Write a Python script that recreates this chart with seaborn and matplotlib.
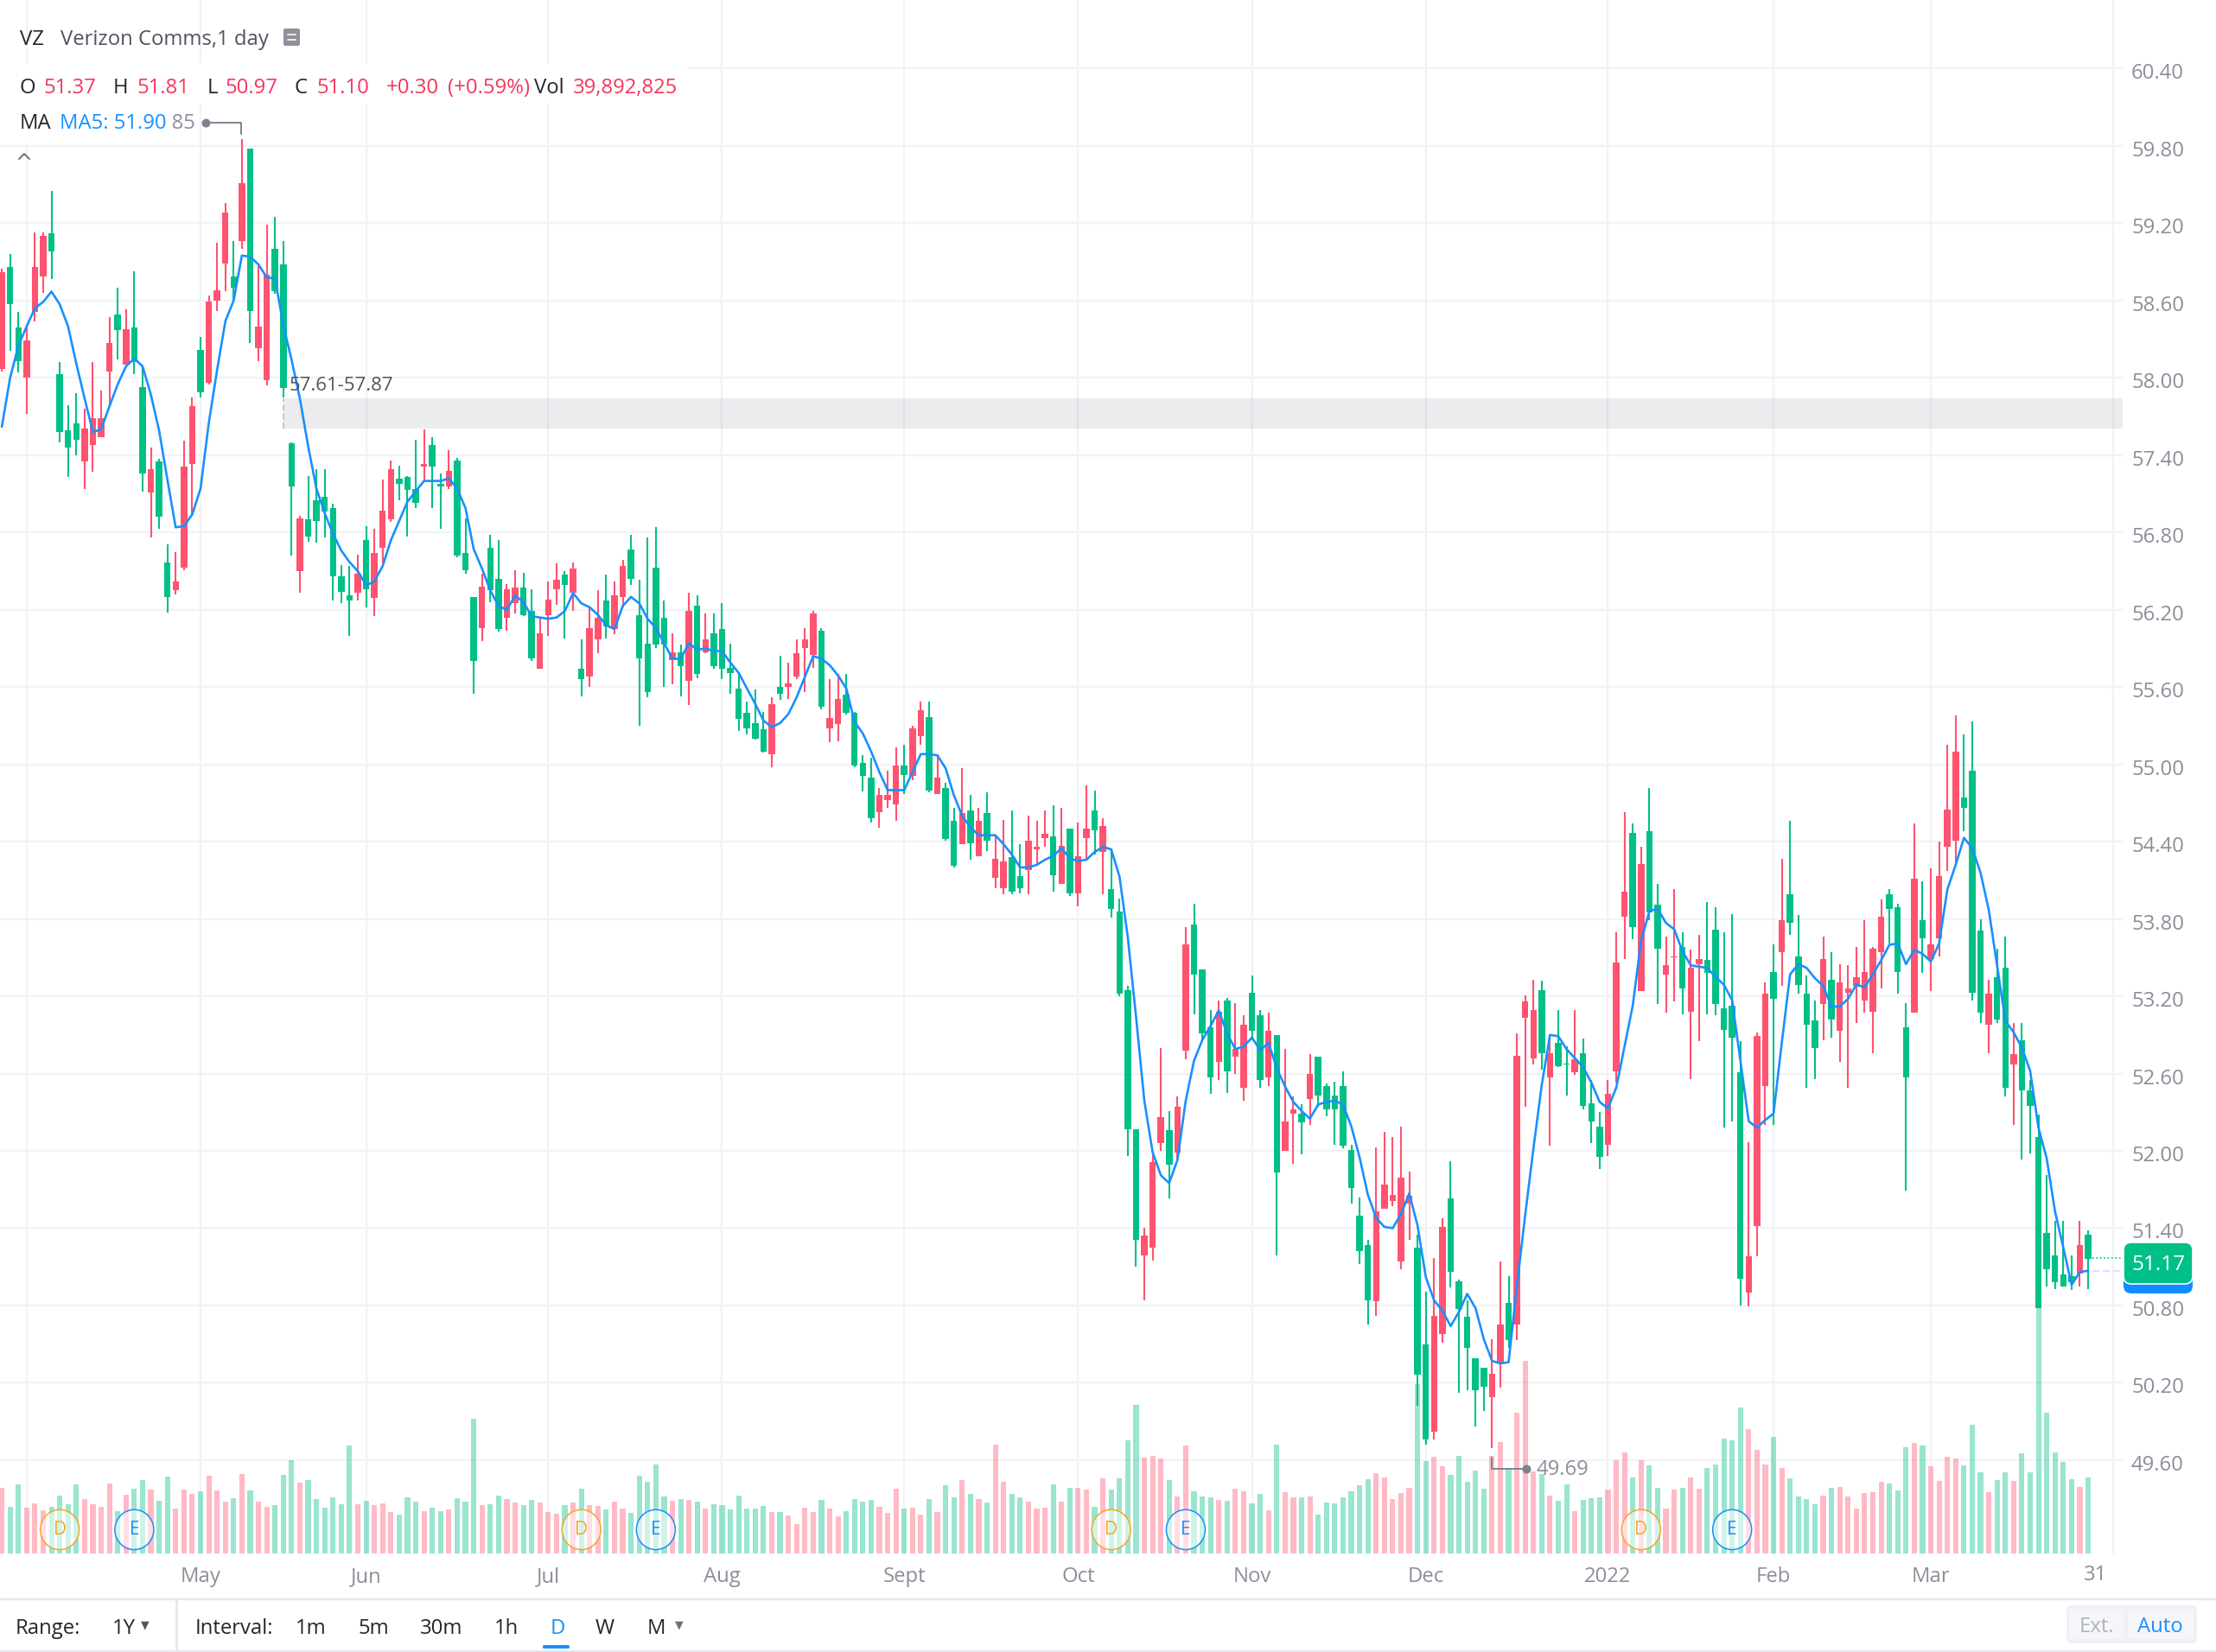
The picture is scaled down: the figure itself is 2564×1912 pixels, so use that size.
import matplotlib
matplotlib.use('Agg')
import matplotlib.pyplot as plt
import seaborn as sns
import pandas as pd
from matplotlib.lines import Line2D
from matplotlib.patches import Ellipse, FancyBboxPatch, Rectangle
from matplotlib.transforms import IdentityTransform, ScaledTranslation

open_px = [58.82,58.57,58.13,58.29,58.86,59.10,58.98,57.58,57.46,57.52,
57.61,57.69,57.69,58.27,58.37,58.38,58.12,57.26,57.29,56.92,
56.30,56.42,57.31,57.78,57.89,58.59,58.68,59.28,58.70,59.51,
58.52,58.40,58.80,58.67,57.92,57.16,56.91,56.77,56.89,56.96,
56.46,56.34,56.27,56.48,56.36,56.64,56.97,57.29,57.18,57.13,
57.03,57.33,57.31,57.16,57.28,56.62,56.51,55.80,56.38,56.35,
56.05,56.36,56.37,56.16,55.82,56.02,56.28,56.43,56.39,56.52,
55.66,56.06,56.14,56.07,56.31,56.54,56.44,55.82,55.56,55.93,
55.93,55.87,55.76,56.19,55.70,55.97,55.76,55.74,55.71,55.35,
55.28,55.20,55.10,55.47,55.55,55.63,55.86,55.97,56.17,55.45,
55.36,55.51,55.40,54.99,54.91,54.58,54.76,54.76,54.99,54.92,
55.28,55.42,54.80,54.90,54.42,54.21,54.62,54.39,54.56,54.41,
54.27,54.25,54.01,54.04,54.41,54.36,54.46,54.14,54.37,54.00,
54.29,54.50,54.49,54.52,53.88,53.22,52.17,51.31,51.34,51.91,
52.26,51.89,52.34,53.60,53.37,52.91,52.57,53.08,52.62,52.79,
52.98,52.93,52.55,52.93,51.83,52.23,52.32,52.22,52.60,52.43,
52.32,52.32,52.04,51.71,51.22,50.84,51.53,51.74,51.66,51.79,
51.65,50.26,49.76,50.72,51.41,51.06,50.77,50.47,50.14,50.17,
50.27,50.65,50.53,52.74,53.16,53.09,52.76,52.76,52.66,52.67,
52.71,52.35,52.23,51.95,52.44,53.46,54.01,53.74,54.23,53.85,
53.57,53.44,53.51,53.26,53.42,53.49,53.38,53.14,52.94,52.88,
51.01,51.18,52.89,53.22,53.18,53.79,53.77,53.29,52.98,52.80,
53.49,53.02,53.31,53.26,53.35,53.39,53.57,53.82,53.88,53.39,
52.57,54.11,53.65,53.60,54.13,54.65,55.10,54.66,53.23,53.07,
53.22,53.02,52.49,52.75,52.47,52.35,50.78,51.08,50.98,50.95,
50.98,51.27,51.16]

high_px = [58.85,58.96,58.51,58.40,59.13,59.13,59.45,58.12,57.79,57.88,
57.76,58.12,57.90,58.47,58.70,58.53,58.83,58.09,57.46,57.37,
56.71,56.65,57.51,57.85,58.32,58.64,59.05,59.36,59.06,59.85,
59.78,58.87,59.19,59.25,59.06,57.50,56.93,57.24,57.29,57.29,
57.02,56.55,56.54,56.63,56.85,56.83,57.21,57.36,57.32,57.24,
57.52,57.60,57.54,57.26,57.44,57.38,56.91,56.30,56.48,56.78,
56.74,56.40,56.51,56.49,56.36,56.13,56.42,56.56,56.50,56.57,
55.97,56.22,56.35,56.47,56.42,56.59,56.78,56.43,56.76,56.84,
56.27,56.02,55.93,56.33,56.31,56.17,56.17,56.25,55.94,55.70,
55.49,55.58,55.41,55.52,55.84,55.79,55.97,56.06,56.19,56.06,
55.66,55.70,55.70,55.41,55.07,55.05,54.82,54.95,55.13,55.15,
55.30,55.49,55.49,55.08,54.86,54.66,54.97,54.76,54.66,54.78,
54.45,54.57,54.64,54.38,54.60,54.56,54.64,54.68,54.66,54.50,
54.55,54.84,54.80,54.58,54.34,53.96,53.28,52.17,51.40,51.99,
52.80,52.31,52.42,53.74,53.92,53.41,53.09,53.17,53.19,53.15,
53.05,53.36,53.09,53.07,52.90,52.79,52.42,52.36,52.75,52.73,
52.52,52.54,52.62,52.05,51.64,51.31,52.03,52.15,52.11,52.19,
51.84,51.35,50.91,51.17,51.48,51.92,51.00,50.84,50.39,50.32,
50.54,51.14,51.03,52.91,53.21,53.33,53.32,52.90,53.09,52.81,
53.09,52.87,52.55,52.30,52.55,53.70,54.63,54.54,54.36,54.82,
54.07,53.66,54.03,53.70,53.56,53.68,53.93,53.89,53.70,53.84,
52.85,52.07,52.92,53.31,53.60,54.27,54.56,53.83,53.36,53.17,
53.66,53.54,53.45,53.44,53.58,53.79,53.58,53.95,54.03,53.92,
53.15,54.54,54.09,54.19,54.40,55.15,55.38,55.23,55.33,53.80,
53.33,53.57,53.66,52.99,52.99,52.55,52.28,51.81,51.46,51.46,
51.19,51.46,51.38]

low_px = [58.05,58.21,58.04,57.72,58.44,58.66,58.77,57.50,57.23,57.40,
57.14,57.27,57.54,57.79,58.14,58.10,58.03,57.12,56.76,56.83,
56.18,56.32,56.51,56.94,57.85,57.95,58.52,58.67,58.59,59.00,
58.27,58.13,57.94,58.65,57.85,56.62,56.33,56.73,56.72,56.76,
56.27,56.25,56.00,56.27,56.22,56.15,56.56,56.88,57.05,56.77,
56.99,57.20,56.99,56.83,57.14,56.61,56.48,55.55,55.96,56.26,
56.03,56.04,56.17,56.15,55.80,55.74,56.00,56.24,55.98,56.19,
55.53,55.60,55.86,55.98,56.01,56.22,56.39,55.30,55.52,55.90,
55.60,55.62,55.53,55.46,55.67,55.86,55.74,55.66,55.55,55.26,
55.23,55.19,55.09,54.98,55.50,55.51,55.66,55.56,55.75,55.43,
55.17,55.18,55.39,54.98,54.79,54.55,54.51,54.66,54.56,54.77,
54.88,55.15,54.78,54.77,54.41,54.20,54.38,54.26,54.29,54.33,
54.04,53.99,53.99,54.00,53.99,54.23,54.36,54.01,54.07,53.98,
53.90,54.26,54.30,53.99,53.81,53.20,51.96,51.10,50.84,51.15,
52.00,51.63,51.94,52.71,53.06,52.86,52.44,52.55,52.45,52.60,
52.39,52.86,52.49,52.50,51.19,52.00,51.90,51.97,52.20,52.34,
52.27,52.05,52.02,51.59,51.12,50.65,50.72,51.55,51.57,51.08,
51.31,50.02,49.72,49.76,50.51,50.94,50.12,50.14,49.86,49.98,
49.69,50.16,50.47,50.53,52.34,52.67,52.63,52.04,52.65,52.43,
52.59,52.32,52.06,51.86,51.96,52.53,53.49,53.64,53.24,53.79,
53.14,53.07,53.16,53.06,52.56,52.85,53.06,53.05,52.18,52.23,
50.80,50.79,51.18,52.20,52.20,53.28,53.68,53.22,52.49,52.56,
52.86,52.88,52.69,52.49,52.99,53.07,52.76,53.26,53.61,53.22,
51.69,53.07,53.38,53.24,53.51,54.17,54.24,54.48,53.17,52.99,
52.76,52.99,52.42,52.20,51.93,51.98,50.78,50.95,50.93,50.95,
50.92,50.95,50.93]

close_px = [58.07,58.86,58.39,58.00,58.51,58.79,59.12,58.03,57.59,57.65,
57.35,57.48,57.54,58.05,58.49,58.10,58.39,57.93,57.11,57.35,
56.57,56.35,56.53,57.33,58.22,57.96,58.60,58.89,58.79,59.06,
59.78,58.23,57.98,59.00,58.88,57.49,56.50,56.90,57.05,57.08,
56.99,56.46,56.31,56.33,56.74,56.29,56.68,56.90,57.22,57.23,
57.14,57.31,57.48,57.18,57.16,57.36,56.64,56.30,56.06,56.68,
56.44,56.14,56.25,56.37,56.19,55.74,56.16,56.36,56.47,56.33,
55.74,55.68,55.97,56.27,56.05,56.30,56.67,56.16,55.94,56.53,
56.14,55.81,55.87,55.65,56.23,55.87,56.02,56.05,55.75,55.59,
55.40,55.32,55.27,55.08,55.60,55.60,55.68,55.90,55.85,56.04,
55.28,55.31,55.54,55.40,55.01,54.90,54.63,54.72,54.69,54.99,
54.91,55.22,55.37,54.77,54.82,54.56,54.38,54.64,54.29,54.62,
54.12,54.04,54.28,54.13,54.18,54.34,54.43,54.44,54.07,54.50,
54.00,54.43,54.64,54.32,54.03,53.86,53.25,52.17,51.19,51.25,
52.06,52.16,51.99,52.78,53.76,53.41,52.96,52.69,53.17,52.73,
52.49,53.23,53.05,52.57,52.90,52.00,52.29,52.29,52.40,52.73,
52.50,52.43,52.50,52.01,51.50,51.27,50.83,51.55,51.61,51.14,
51.59,51.25,50.50,49.82,50.58,51.63,50.99,50.71,50.39,50.32,
50.09,50.35,50.82,50.65,53.03,52.72,53.25,52.57,52.84,52.68,
52.61,52.76,52.37,52.19,52.05,52.62,53.82,54.47,53.24,54.48,
53.91,53.37,53.50,53.58,53.08,53.45,53.48,53.72,53.11,53.13,
52.61,50.90,51.42,52.50,53.39,53.54,53.99,53.51,53.22,53.01,
53.14,53.33,52.93,53.23,53.28,53.17,53.08,53.54,53.99,53.89,
52.96,53.07,53.79,53.49,53.65,54.36,54.41,54.74,54.95,53.71,
52.98,53.35,53.42,52.67,52.86,52.47,52.11,51.36,51.19,51.04,
51.03,51.05,51.35]

volume_m = [34.3,24.3,36.1,23.9,26.1,22.5,24.3,30.2,25.7,36.1,
28.4,25.7,24.3,36.5,22.0,30.7,33.8,38.4,33.4,27.5,
40.2,23.4,33.4,31.1,32.5,40.6,32.9,27.0,28.8,41.5,
32.9,27.0,24.3,25.2,41.1,48.8,37.0,38.4,28.4,23.9,
29.3,25.7,56.5,25.7,27.5,25.2,26.1,21.6,20.2,29.3,
27.0,22.0,23.9,22.0,23.0,28.8,27.0,70.5,25.2,25.7,
30.2,28.4,26.6,25.2,27.9,26.6,21.6,20.7,25.2,26.6,
33.8,25.2,24.8,23.0,27.0,23.4,21.1,40.6,37.4,46.5,
29.7,27.5,28.4,27.9,27.0,23.4,25.7,25.2,23.0,30.2,
23.4,23.4,24.8,21.6,21.6,19.8,15.3,23.9,21.6,27.9,
23.4,19.3,22.0,28.4,27.0,27.9,24.3,21.1,33.8,23.4,
23.9,20.2,28.4,21.6,35.6,29.3,38.4,31.1,28.4,26.6,
56.9,37.4,31.1,29.3,27.0,23.4,23.9,36.1,27.0,34.3,
34.3,33.4,24.3,39.3,33.4,39.3,59.2,77.8,50.1,51.0,
49.7,38.4,29.7,56.5,32.5,29.7,29.3,27.9,27.5,33.8,
32.5,26.1,31.1,22.5,56.9,32.0,29.3,29.3,29.7,20.2,
26.6,26.1,29.3,32.5,35.6,38.8,42.0,39.7,28.4,31.6,
34.3,88.6,48.3,50.6,45.6,41.1,51.0,37.4,43.3,33.8,
51.0,58.3,44.2,73.7,100.9,42.9,41.5,30.2,27.5,36.1,
22.0,27.9,28.8,29.3,33.4,48.8,52.9,39.7,48.8,46.1,
34.3,23.4,33.4,34.3,39.7,33.8,44.7,46.5,60.1,59.2,
76.4,65.1,54.2,46.5,61.0,44.7,39.3,29.7,28.4,25.7,
30.2,34.3,34.7,29.7,23.4,31.6,32.0,37.4,36.5,32.9,
55.6,57.8,56.5,45.6,37.9,50.6,49.7,46.1,67.3,42.4,
32.0,38.4,42.4,37.9,52.4,42.4,130.3,73.7,52.9,47.9,
38.8,34.7,39.7]

ma5 = [57.62,58.00,58.25,58.40,58.54,58.59,58.67,58.57,58.40,58.11,
57.84,57.58,57.60,57.78,57.95,58.09,58.15,58.09,57.87,57.59,
57.21,56.84,56.85,56.94,57.14,57.65,58.06,58.44,58.60,58.95,
58.94,58.88,58.78,58.77,58.41,58.14,57.84,57.47,57.14,56.95,
56.79,56.66,56.57,56.50,56.39,56.42,56.54,56.74,56.89,57.04,
57.12,57.20,57.20,57.20,57.22,57.14,56.99,56.67,56.52,56.35,
56.23,56.20,56.31,56.26,56.15,56.14,56.13,56.14,56.19,56.33,
56.25,56.22,56.16,56.08,56.05,56.23,56.30,56.25,56.13,56.06,
55.94,55.82,55.82,55.94,55.89,55.90,55.88,55.88,55.79,55.71,
55.59,55.47,55.34,55.29,55.32,55.39,55.52,55.68,55.84,55.82,
55.77,55.69,55.59,55.33,55.24,55.10,54.94,54.80,54.80,54.80,
54.94,55.08,55.08,55.07,54.97,54.76,54.60,54.51,54.45,54.45,
54.45,54.38,54.30,54.20,54.20,54.22,54.26,54.29,54.35,54.27,
54.25,54.26,54.32,54.36,54.34,54.13,53.66,53.04,52.39,51.99,
51.81,51.75,51.93,52.39,52.70,52.86,52.97,53.09,52.91,52.79,
52.81,52.88,52.78,52.84,52.64,52.50,52.38,52.31,52.25,52.36,
52.38,52.39,52.36,52.19,51.95,51.66,51.48,51.41,51.40,51.51,
51.67,51.42,51.02,50.84,50.76,50.64,50.75,50.89,50.78,50.54,
50.37,50.35,50.36,50.95,51.50,52.02,52.51,52.90,52.89,52.79,
52.72,52.65,52.53,52.38,52.33,52.49,52.81,53.13,53.63,53.86,
53.88,53.77,53.72,53.55,53.44,53.43,53.42,53.35,53.29,53.17,
52.70,52.23,52.18,52.24,52.29,52.84,53.37,53.45,53.42,53.34,
53.28,53.12,53.12,53.18,53.29,53.27,53.37,53.48,53.60,53.61,
53.45,53.56,53.53,53.47,53.61,54.03,54.22,54.43,54.35,54.16,
53.87,53.44,53.01,52.92,52.80,52.62,52.18,51.94,51.53,51.25,
50.96,51.06,51.07]

price_ticks = [49.6,50.2,50.8,51.4,52.0,52.6,53.2,53.8,54.4,55.0,55.6,56.2,56.8,57.4,58.0,58.6,59.2,59.8,60.4]
month_bars = [3,24,44,66,87,109,130,151,172,194,214,233,255]
month_labels = ['','May','Jun','Jul','Aug','Sept','Oct','Nov','Dec','2022','Feb','Mar','']
dividend_bars = [7,70,134,198]
earnings_bars = [16,79,143,209]
gap_low, gap_high = 57.61, 57.84
last_price = 51.17

W, H = 2564, 1912
UP, DOWN, BLUE = '#00C087', '#FF5370', '#1890FF'
GRID, MUTED, DARK = '#F2F3F7', '#8C8E99', '#23252B'
RED_TXT = '#F5365C'

sns.set_theme(style='white')
plt.rcParams['font.family'] = ['Open Sans', 'DejaVu Sans']
plt.rcParams['font.size'] = 8.6

df = pd.DataFrame({'bar': range(len(close_px)), 'open': open_px, 'high': high_px,
                   'low': low_px, 'close': close_px, 'vol': volume_m, 'ma5': ma5})
df['dir'] = ['up' if c >= o else 'down' for o, c in zip(df.open, df.close)]
colors = [UP if d == 'up' else DOWN for d in df.dir]

fig = plt.figure(figsize=(W / 200, H / 200), dpi=200, facecolor='white')
rect = [0, 1 - 1798 / H, 2456 / W, 1798 / H]
xlim = (-0.22, 256.17)
ylim = (48.875, 60.933)

# grid and tick labels at the back, then volume, then candles
ax = fig.add_axes(rect)
ax.set_xlim(xlim)
ax.set_ylim(ylim)
ax.set_xticks(month_bars, month_labels)
ax.set_yticks(price_ticks, [f'{p:.2f}' for p in price_ticks])
ax.tick_params(axis='x', length=0, pad=5.5, labelsize=8.6, colors=MUTED)
ax.grid(True, color=GRID, linewidth=0.85)
ax.set_axisbelow(True)
sns.despine(ax=ax, left=True, right=True, top=True, bottom=True)
ax.fill_between([34, xlim[1]], gap_low, gap_high, color='#8A8F99', alpha=0.17, linewidth=0, zorder=2)
ax.vlines(34, gap_low, gap_high, colors='#C4C6CC', linestyles='--', linewidth=0.7, zorder=3)

ax_vol = ax.twinx()
sns.barplot(data=df, x='bar', y='vol', hue='dir', palette={'up': UP, 'down': DOWN}, native_scale=True,
            dodge=False, width=0.64, saturation=1, alpha=0.4, linewidth=0, errorbar=None, legend=False, ax=ax_vol)
ax_vol.set_xlim(xlim)
ax_vol.set_ylim(0, 814.5)
ax_vol.axis('off')

ax_p = ax.twinx()
ax_p.vlines(df.bar, df.low, df.high, colors=colors, linewidth=0.75)
ax_p.bar(df.bar, (df.close - df.open).abs(), bottom=df[['open', 'close']].min(axis=1),
         width=0.78, color=colors, linewidth=0)
sns.lineplot(data=df, x='bar', y='ma5', color=BLUE, linewidth=0.95, errorbar=None, ax=ax_p)
ax_p.hlines(last_price, 252.5, xlim[1] - 0.2, colors=UP, linestyles=':', linewidth=0.6)
ax_p.hlines(ma5[-1], 252.5, xlim[1], colors='#CFE6FF', linestyles='--', linewidth=0.8)
for bars, txt, col in [(dividend_bars, 'D', '#F5A623'), (earnings_bars, 'E', BLUE)]:
    for b in bars:
        ax_p.add_patch(Ellipse((b, 49.06), 4.7, 0.31, facecolor='white', alpha=0.55, linewidth=0))
        ax_p.add_patch(Ellipse((b, 49.06), 4.7, 0.31, facecolor='none', edgecolor=col, linewidth=0.55))
        ax_p.text(b, 49.06, txt, color=col, fontsize=7.5, ha='center', va='center')
ax_p.set_xlim(xlim)
ax_p.set_ylim(ylim)
ax_p.axis('off')

# twinx moves the base ticks to the left, so set the right side after it
ax.yaxis.tick_right()
ax.tick_params(axis='y', length=0, pad=3.6, labelsize=8.6, colors=MUTED)
nudge = ScaledTranslation(0, -3 / 200, fig.dpi_scale_trans)
for t in ax.get_yticklabels():
    t.set_transform(t.get_transform() + nudge)

pix = IdentityTransform()


def label(x, y, s, color=DARK, size=8.6, ha='left', z=8):
    fig.text(x, H - y, s, transform=pix, color=color, fontsize=size, ha=ha, va='center', zorder=z)


def box(x0, y0, x1, y1, color, rad=0.0, z=5, edge='none', lw=0):
    if rad:
        fig.add_artist(FancyBboxPatch((x0 + rad, H - y1 + rad), x1 - x0 - 2 * rad, y1 - y0 - 2 * rad,
                                      boxstyle=f'round,pad={rad}', transform=pix, facecolor=color,
                                      edgecolor=edge, linewidth=lw, zorder=z))
    else:
        fig.add_artist(Rectangle((x0, H - y1), x1 - x0, y1 - y0, transform=pix, facecolor=color,
                                 edgecolor=edge, linewidth=lw, zorder=z))


def line(xs, ys, color, lw=0.7, z=6):
    fig.add_artist(Line2D(xs, [H - y for y in ys], transform=pix, color=color, linewidth=lw, zorder=z))


# high / low markers
label(226, 143, '59.85', MUTED, ha='right', z=4)
line([238, 279, 279], [142, 142, 155], '#7F8290')
line([1725.5, 1725.5, 1766], [1687, 1699.5, 1699.5], '#7F8290')
fig.add_artist(Line2D([238, 1766], [H - 142, H - 1699.5], transform=pix, linestyle='none', marker='o',
                      markersize=2.6, color='#7F8290', zorder=6))
label(1778, 1701, '49.69', MUTED)
label(335, 446, '57.61-57.87', '#50535E', size=8.0)

# header
box(0, 74, 795, 120, 'white')
box(0, 120, 200, 165, 'white')
label(23, 46, 'VZ')
label(70, 46, 'Verizon Comms,1 day', '#50535E')
box(328, 33, 347, 53, '#8F919C', rad=2)
line([333, 342], [40, 40], 'white', 0.6)
line([333, 342], [46, 46], 'white', 0.6)
for x, s, c in [(23, 'O', DARK), (50, '51.37', RED_TXT), (131, 'H', DARK), (159, '51.81', RED_TXT),
                (240, 'L', DARK), (260, '50.97', RED_TXT), (341, 'C', DARK), (366, '51.10', RED_TXT),
                (447, '+0.30', RED_TXT), (518, '(+0.59%)', RED_TXT), (618, 'Vol', DARK),
                (663, '39,892,825', RED_TXT)]:
    label(x, 102, s, c)
label(23, 143, 'MA')
label(69, 143, 'MA5: 51.90', BLUE)
line([22, 28, 34], [184, 178, 184], '#6E7079', 0.7)

label(2424, 1823, '31', MUTED, ha='center')

# last price tag
box(2457, 1462, 2537, 1497, '#0F8CFF', rad=9)
box(2457, 1438, 2537, 1486, UP, rad=9, z=6, edge='white', lw=0.6)
label(2497, 1464, '51.17', 'white', ha='center', size=8.8)

# bottom toolbar
line([0, W], [1851, 1851], '#E6E8EC', 0.85)
line([0, W], [1911, 1911], '#E6E8EC', 0.85)
line([204, 204], [1851, 1911], '#E6E8EC', 1.1)
for x, s, c in [(18, 'Range:', DARK), (130, '1Y', DARK), (226, 'Interval:', DARK), (342, '1m', DARK),
                (414, '5m', DARK), (486, '30m', DARK), (572, '1h', DARK), (637, 'D', BLUE),
                (689, 'W', DARK), (749, 'M', DARK)]:
    label(x, 1885, s, c)
label(168, 1881, '▼', '#50535E', size=4.5, ha='center')
label(786, 1881, '▼', '#6E7079', size=4.5, ha='center')
box(628, 1904, 659, 1908, BLUE, rad=1.5)
box(2391, 1858, 2542, 1902, '#EEF0F4', rad=5)
box(2394, 1862, 2457, 1897, '#F5F6F9', rad=3, z=6)
box(2462, 1862, 2538, 1897, '#F5F6F9', rad=3, z=6)
label(2426, 1883, 'Ext.', '#B0B3BD', ha='center')
label(2499, 1883, 'Auto', BLUE, ha='center')

fig.savefig('out.png')
plt.close(fig)
